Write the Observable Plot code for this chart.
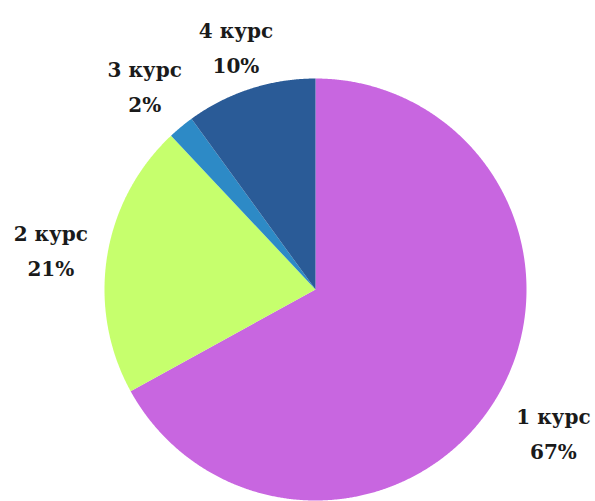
<!DOCTYPE html>
<html>
<head>
<meta charset="utf-8">
<script src="https://cdn.jsdelivr.net/npm/d3@7"></script>
<script src="https://cdn.jsdelivr.net/npm/@observablehq/plot@0.6"></script>
<style>
  html, body { margin: 0; padding: 0; background: #fff; }
  #chart { width: 595px; height: 501px; overflow: hidden; }
</style>
</head>
<body>
<div id="chart"></div>
<script>
const courses = ["1 курс", "2 курс", "3 курс", "4 курс"];
const shares = [67, 21, 2, 10];
const percentLabels = ["67%", "21%", "2%", "10%"];
const sliceColors = ["#c866e0", "#c6ff6d", "#2d8ac6", "#2a5b97"];
const labelRadius = [1.31, 1.27, 1.27, 1.22];

const arcs = d3.pie().sort(null).value(d => d)(shares);

const slicePoints = [];
arcs.forEach((a, i) => {
  slicePoints.push({course: courses[i], x: 0, y: 0});
  const n = Math.max(2, Math.ceil((a.endAngle - a.startAngle) / 0.005));
  for (let k = 0; k <= n; k++) {
    const t = a.startAngle + (a.endAngle - a.startAngle) * k / n;
    slicePoints.push({course: courses[i], x: Math.sin(t), y: Math.cos(t)});
  }
  slicePoints.push({course: courses[i], x: 0, y: 0});
});

const labels = arcs.map((a, i) => {
  const m = (a.startAngle + a.endAngle) / 2;
  return {
    course: courses[i],
    text: courses[i] + "\n" + percentLabels[i],
    x: labelRadius[i] * Math.sin(m),
    y: labelRadius[i] * Math.cos(m)
  };
});

const chart = Plot.plot({
  width: 595,
  height: 501,
  margin: 0,
  style: {background: "#fff"},
  x: {domain: [-1, 1], range: [104, 526], axis: null},
  y: {domain: [-1, 1], range: [500, 78], axis: null},
  color: {domain: courses, range: sliceColors},
  marks: [
    Plot.line(slicePoints, {x: "x", y: "y", z: "course", fill: "course", stroke: null, curve: "linear"}),
    Plot.text(labels, {
      x: "x", y: "y", text: "text",
      fontSize: 20, lineHeight: 1.75, fontWeight: "bold",
      fontFamily: "DejaVu Serif", fill: "#1a1a1a",
      textAnchor: "middle", lineAnchor: "middle"
    })
  ]
});
document.getElementById("chart").appendChild(chart);
</script>
</body>
</html>
